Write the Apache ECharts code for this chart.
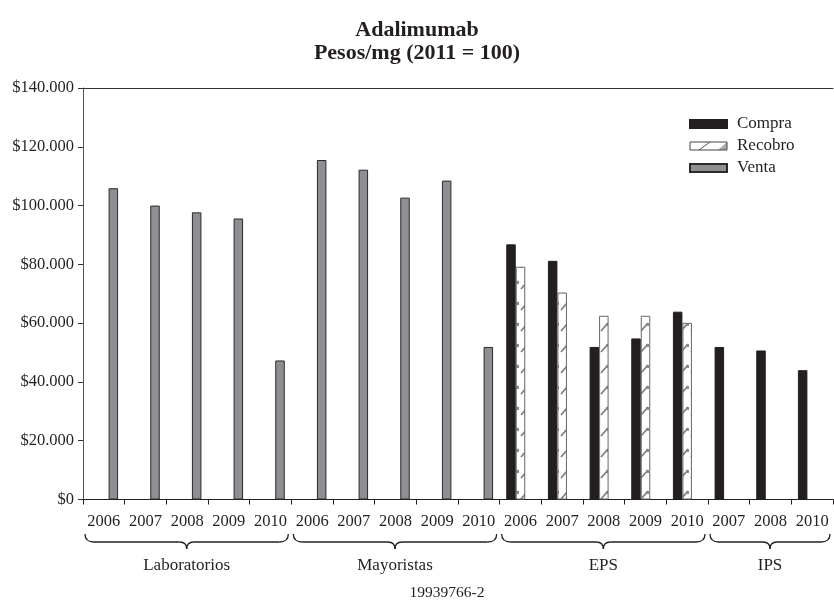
<!DOCTYPE html>
<html>
<head>
<meta charset="utf-8">
<script src="https://cdn.jsdelivr.net/npm/echarts@6/dist/echarts.min.js"></script>
<style>
html,body{margin:0;padding:0;background:#fff;}
#chart{width:834px;height:604px;}
</style>
</head>
<body>
<div id="chart"></div>
<script>
// ---- Data ----
const years = ['2006','2007','2008','2009','2010','2006','2007','2008','2009','2010','2006','2007','2008','2009','2010','2007','2008','2010'];
const groupNames = ['Laboratorios','Mayoristas','EPS','IPS'];
const groupSizes = [5,5,5,3];
const compra  = [null,null,null,null,null,null,null,null,null,null,86800,81200,51900,54800,63900,51900,50700,44000];
const recobro = [null,null,null,null,null,null,null,null,null,null,79200,70400,62500,62500,60100,null,null,null];
const venta   = [105900,100000,97700,95600,47300,115500,112200,102700,108500,51900,null,null,null,null,null,null,null,null];
const footer = '19939766-2';

const FONT = 'Liberation Serif';

// hatch pattern for Recobro
function makeHatch(){
  const c = document.createElement('canvas');
  c.width = 10; c.height = 21;
  const ctx = c.getContext('2d');
  ctx.fillStyle = '#ffffff';
  ctx.fillRect(0,0,10,21);
  ctx.strokeStyle = '#7a7a7a';
  ctx.lineWidth = 1.6;
  ctx.beginPath();
  ctx.moveTo(1,16); ctx.lineTo(8,8);
  ctx.stroke();
  ctx.fillStyle = '#8a8a8a';
  ctx.fillRect(6,8,3,3);
  return c;
}
function makeLegendHatch(){
  const c = document.createElement('canvas');
  c.width = 37; c.height = 8;
  const ctx = c.getContext('2d');
  ctx.fillStyle = '#ffffff';
  ctx.fillRect(0,0,37,8);
  ctx.strokeStyle = '#555';
  ctx.lineWidth = 1;
  ctx.beginPath();
  ctx.moveTo(9,8); ctx.lineTo(20,0);
  ctx.stroke();
  ctx.fillStyle = '#aaa';
  ctx.beginPath(); ctx.moveTo(28,8); ctx.lineTo(37,0); ctx.lineTo(37,8); ctx.fill();
  return c;
}
const hatch = makeHatch();

function fmt(v){
  if (v === 0) return '$0';
  return '$' + String(v).replace(/\B(?=(\d{3})+(?!\d))/g, '.');
}

const chart = echarts.init(document.getElementById('chart'), null, {renderer:'canvas'});

const option = {
  animation:false,
  backgroundColor:'#fff',
  title:{
    text:'Adalimumab\nPesos/mg (2011 = 100)',
    left:'center', top:14,
    textStyle:{fontFamily:FONT, fontWeight:'bold', fontSize:22, lineHeight:23, color:'#231f20'}
  },
  legend:{
    orient:'vertical', left:684, top:108, itemGap:0,
    itemWidth:37, itemHeight:8, icon:'rect',
    textStyle:{fontFamily:FONT, fontSize:17, color:'#231f20', lineHeight:22, padding:[0,0,0,5]},
    data:[
      {name:'Compra', icon:'rect'},
      {name:'Recobro', icon:'rect', itemStyle:{color:{image:makeLegendHatch(), repeat:'no-repeat'}, borderColor:'#444', borderWidth:1}},
      {name:'Venta', icon:'rect'}
    ]
  },
  grid:{left:83, right:1, top:88, bottom:104.5, containLabel:false},
  xAxis:[{
    type:'category', data:years, boundaryGap:true,
    axisLine:{lineStyle:{color:'#231f20', width:1}},
    axisTick:{show:true, length:5, alignWithLabel:false, lineStyle:{color:'#231f20'}},
    axisLabel:{fontFamily:FONT, fontSize:16.5, color:'#231f20', margin:14, interval:0}
  },{
    type:'category', data:years, position:'top',
    axisLine:{show:true, lineStyle:{color:'#333', width:1}},
    axisTick:{show:false}, axisLabel:{show:false}
  }],
  yAxis:{
    type:'value', min:0, max:140000, interval:20000,
    axisLine:{show:true, lineStyle:{color:'#555', width:1}},
    axisTick:{show:true, length:5, lineStyle:{color:'#333'}},
    splitLine:{show:false},
    axisLabel:{fontFamily:FONT, fontSize:16.5, color:'#231f20', margin:9, formatter:fmt}
  },
  series:[
    {name:'Compra', type:'bar', data:compra, barWidth:9.5, barGap:'0%',
     itemStyle:{color:'#231f20', borderColor:'#231f20', borderWidth:1}},
    {name:'Recobro', type:'bar', data:recobro, barWidth:9.5, barGap:'0%',
     itemStyle:{color:{image:hatch, repeat:'repeat'}, borderColor:'#666', borderWidth:1}},
    {name:'Venta', type:'bar', data:venta, barWidth:9.5, barGap:'0%',
     itemStyle:{color:'#8e8f93', borderColor:'#2a2a2a', borderWidth:1}}
  ]
};
chart.setOption(option);

// braces and group labels, positioned from the axis scale
const c0 = chart.convertToPixel({xAxisIndex:0}, 0);
const c1 = chart.convertToPixel({xAxisIndex:0}, 1);
const cw = c1 - c0;
const graphics = [];
const stroke = {stroke:'#231f20', lineWidth:1.3, fill:null};
let start = 0;
groupSizes.forEach((n, gi) => {
  const xa = chart.convertToPixel({xAxisIndex:0}, start) - cw/2 + 2;
  const xb = chart.convertToPixel({xAxisIndex:0}, start + n - 1) + cw/2 - 3;
  const xm = (xa + xb) / 2;
  const yTop = 534, yMid = 542, yTip = 549;
  graphics.push({type:'bezierCurve', shape:{x1:xa, y1:yTop, x2:xa+9, y2:yMid, cpx1:xa, cpy1:yMid}, style:stroke});
  graphics.push({type:'line', shape:{x1:xa+9, y1:yMid, x2:xm-7, y2:yMid}, style:stroke});
  graphics.push({type:'bezierCurve', shape:{x1:xm-7, y1:yMid, x2:xm, y2:yTip, cpx1:xm, cpy1:yMid}, style:stroke});
  graphics.push({type:'bezierCurve', shape:{x1:xm, y1:yTip, x2:xm+7, y2:yMid, cpx1:xm, cpy1:yMid}, style:stroke});
  graphics.push({type:'line', shape:{x1:xm+7, y1:yMid, x2:xb-9, y2:yMid}, style:stroke});
  graphics.push({type:'bezierCurve', shape:{x1:xb-9, y1:yMid, x2:xb, y2:yTop, cpx1:xb, cpy1:yMid}, style:stroke});
  graphics.push({type:'text', x:xm, y:566, style:{text:groupNames[gi], fontFamily:FONT, fontSize:17, fill:'#231f20', align:'center', verticalAlign:'middle'}});
  start += n;
});
graphics.push({type:'text', x:447, y:593, style:{text:footer, fontFamily:FONT, fontSize:15.5, fill:'#231f20', align:'center', verticalAlign:'middle'}});
chart.setOption({graphic:graphics});
</script>
</body>
</html>
